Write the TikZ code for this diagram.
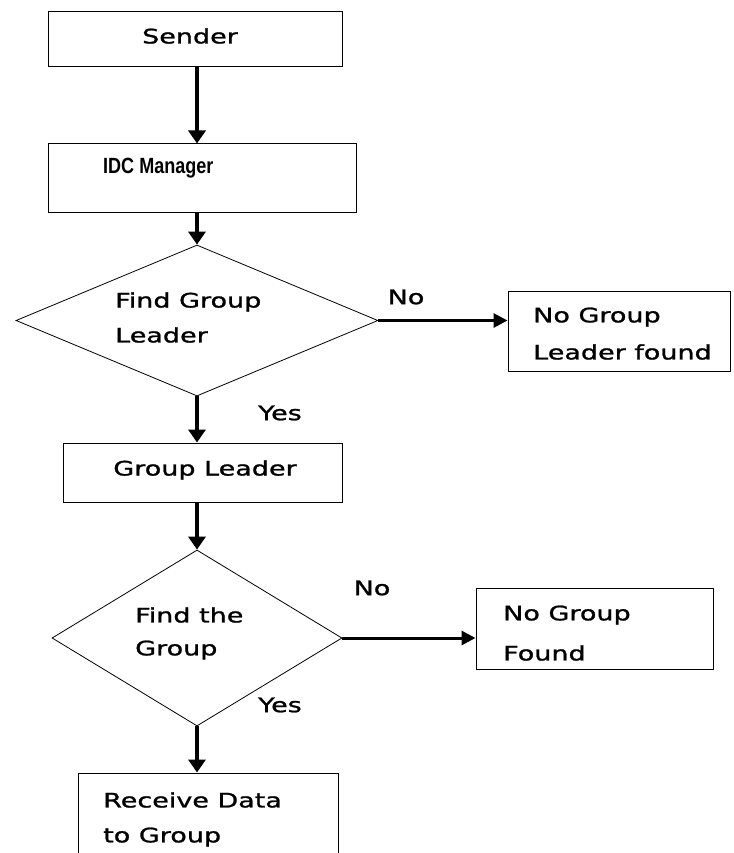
\documentclass[tikz,border=0pt]{standalone}
\usepackage{fontspec}
\setmainfont[FakeStretch=1.35,FakeBold=1.2]{DejaVu Sans}
\newfontfamily\idcfont{Liberation Sans}
\usetikzlibrary{shapes.geometric,arrows.meta}
\begin{document}
\begin{tikzpicture}[x=1pt,y=-1pt,
  box/.style={draw,line width=1pt,inner sep=0pt},
  dia/.style={draw,shape=diamond,inner sep=0pt,line width=0.8pt},
  lbl/.style={font=\fontsize{20}{24}\selectfont,inner sep=0pt},
  arr/.style={line width=3.5pt,-{Triangle[width=17pt,length=13pt]}},
  harr/.style={line width=3pt,-{Triangle[width=14pt,length=14pt]}},
]
\clip (0,0) rectangle (733,853);
\fill[white] (0,0) rectangle (733,853);
% boxes
\node[box,minimum width=294pt,minimum height=55pt] (sender) at (195,39.5) {};
\node[lbl] (tsender) at (190,36) {Sender};
\node[box,minimum width=308pt,minimum height=68pt] (idc) at (202,178) {};
\node[lbl,anchor=west,font=\idcfont\bfseries\fontsize{22}{26}\selectfont] (tidc) at (103,168) {\scalebox{0.82}[1]{IDC Manager}};
\node[dia,minimum width=362pt,minimum height=151pt] (d1) at (197,320.5) {};
\node[lbl,anchor=west] (td1a) at (115,302) {Find Group};
\node[lbl,anchor=west] (td1b) at (115,335) {Leader};
\node[box,minimum width=279pt,minimum height=59pt] (gl) at (202.5,472.5) {};
\node[lbl] (tgl) at (205,470) {Group Leader};
\node[box,minimum width=222pt,minimum height=80pt] (nogl) at (619,331) {};
\node[lbl,anchor=west] (tnogla) at (533,317) {No Group};
\node[lbl,anchor=west] (tnoglb) at (533,352) {Leader found};
\node[dia,minimum width=290pt,minimum height=176pt] (d2) at (197,638) {};
\node[lbl,anchor=west] (td2a) at (135,615) {Find the};
\node[lbl,anchor=west] (td2b) at (135,650) {Group};
\node[box,minimum width=237pt,minimum height=81pt] (nog) at (594.5,628.5) {};
\node[lbl,anchor=west] (tnoga) at (503,615) {No Group};
\node[lbl,anchor=west] (tnogb) at (503,653) {Found};
\node[box,minimum width=260pt,minimum height=100pt] (recv) at (208,823) {};
\node[lbl,anchor=west] (trecva) at (103,800) {Receive Data};
\node[lbl,anchor=west] (trecvb) at (103,837) {to Group};
% labels
\node[lbl] (no1) at (406,297) {No};
\node[lbl] (yes1) at (280,413) {Yes};
\node[lbl] (no2) at (372,588) {No};
\node[lbl] (yes2) at (280,705) {Yes};
% connectors
\draw[arr] (sender.south -| d1.north) -- (idc.north -| d1.north);
\draw[arr] (idc.south -| d1.north) -- (d1.north);
\draw[arr] (d1.south) -- (gl.north -| d1.south);
\draw[arr] (gl.south -| d2.north) -- (d2.north);
\draw[arr] (d2.south) -- (recv.north -| d2.south);
\draw[harr] (d1.east) -- (nogl.west |- d1.east);
\draw[harr] (d2.east) -- (nog.west |- d2.east);
\end{tikzpicture}
\end{document}
